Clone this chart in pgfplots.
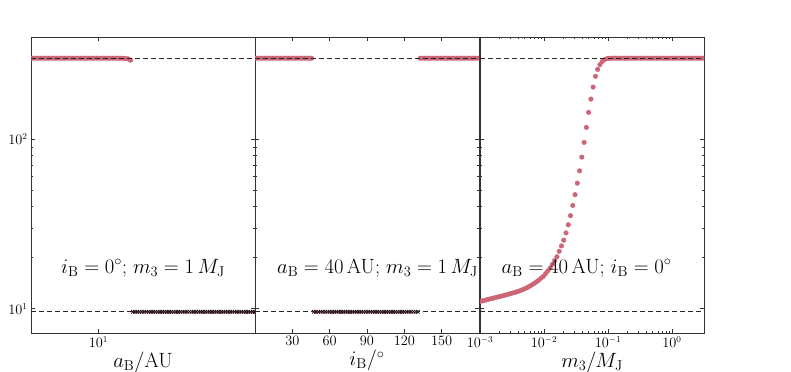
\documentclass[border=0pt]{standalone}
\usepackage{pgfplots}
\pgfplotsset{compat=1.18}

\definecolor{rose}{RGB}{204,102,119}
\definecolor{crossc}{RGB}{45,10,20}

\pgfplotsset{
  every axis/.append style={
    scale only axis, width=224bp, height=296bp,
    ymin=7.2, ymax=400,
    axis line style={black!80, line width=0.8pt},
    tick style={black!80, line width=0.6pt},
    major tick length=4bp, minor tick length=2bp,
    tick label style={font=\fontsize{13.5}{15}\selectfont},
    label style={font=\fontsize{21}{24}\selectfont},
    xlabel style={yshift=2.5bp},
  },
}
\tikzset{
  circ/.style={mark=*, mark size=2.3bp, color=rose, mark options={draw=rose, fill=rose}},
  crs/.style={mark=x, mark size=2.5bp, color=crossc, mark options={line width=0.8pt}},
  refl/.style={black!85, dash pattern=on 5bp off 3bp, line width=0.8pt},
  lab/.style={font=\fontsize{20}{24}\selectfont},
}

\begin{document}
\begin{tikzpicture}
\useasboundingbox (0,0) rectangle (791bp,372bp);

% left: a_B
\begin{axis}[at={(31bp,39bp)}, anchor=south west, clip marker paths=true,
  xmode=log, ymode=log, xmin=5, xmax=50, xtick={10}, ytick={10,100},
  xlabel={$a_\mathrm{B}/\mathrm{AU}$}]
\addplot[only marks, circ] coordinates {
(5.000,300) (5.118,300) (5.238,300) (5.361,300) (5.487,300) (5.617,300) (5.749,300) (5.884,300)
(6.022,300) (6.164,300) (6.309,300) (6.458,300) (6.610,300) (6.765,300) (6.924,300) (7.087,300)
(7.254,300) (7.425,300) (7.599,300) (7.778,300) (7.961,300) (8.148,300) (8.340,300) (8.536,300)
(8.737,300) (8.943,300) (9.153,300) (9.368,300) (9.589,300) (9.814,300) (10.045,300) (10.282,300)
(10.524,300) (10.771,300) (11.025,300) (11.284,300) (11.550,300) (11.821,300) (12.100,300) (12.384,300)
(12.676,300) (12.974,299) (13.279,299) (13.592,297) (13.912,292)};
\addplot[only marks, crs] coordinates {
(14.240,9.6) (14.575,9.6) (14.918,9.6) (15.269,9.6) (15.628,9.6) (15.996,9.6) (16.372,9.6) (16.757,9.6)
(17.152,9.6) (17.555,9.6) (17.968,9.6) (18.391,9.6) (18.824,9.6) (19.267,9.6) (19.720,9.6) (20.184,9.6)
(20.659,9.6) (21.145,9.6) (21.643,9.6) (22.152,9.6) (22.673,9.6) (23.207,9.6) (23.753,9.6) (24.312,9.6)
(24.884,9.6) (25.469,9.6) (26.069,9.6) (26.682,9.6) (27.310,9.6) (27.952,9.6) (28.610,9.6) (29.283,9.6)
(29.972,9.6) (30.678,9.6) (31.399,9.6) (32.138,9.6) (32.895,9.6) (33.669,9.6) (34.461,9.6) (35.272,9.6)
(36.102,9.6) (36.951,9.6) (37.821,9.6) (38.711,9.6) (39.621,9.6) (40.554,9.6) (41.508,9.6) (42.485,9.6)
(43.484,9.6) (44.508,9.6) (45.555,9.6) (46.627,9.6) (47.724,9.6) (48.847,9.6) (50.000,9.6)};
\addplot[refl] coordinates {(5,300) (50,300)};
\addplot[refl] coordinates {(5,9.6) (50,9.6)};
\node[lab] at (rel axis cs:0.5,0.22) {$i_\mathrm{B}=0^\circ$; $m_3=1\,M_\mathrm{J}$};
\end{axis}

% middle: i_B
\begin{axis}[at={(255bp,39bp)}, anchor=south west, clip marker paths=true,
  ymode=log, xmin=0, xmax=180, xtick={30,60,90,120,150}, ytick={10,100}, yticklabels={},
  xlabel={$i_\mathrm{B}/^\circ$}]
\addplot[only marks, circ] coordinates {
(0,300) (1.82,300) (3.64,300) (5.45,300) (7.27,300) (9.09,300) (10.91,300) (12.73,300) (14.55,300)
(16.36,300) (18.18,300) (20.00,300) (21.82,300) (23.64,300) (25.45,300) (27.27,300) (29.09,300)
(30.91,300) (32.73,300) (34.55,300) (36.36,300) (38.18,300) (40.00,300) (41.82,300) (43.64,300) (45.45,300)};
\addplot[only marks, circ] coordinates {
(132.73,300) (134.55,300) (136.36,300) (138.18,300) (140.00,300) (141.82,300) (143.64,300) (145.45,300)
(147.27,300) (149.09,300) (150.91,300) (152.73,300) (154.55,300) (156.36,300) (158.18,300) (160.00,300)
(161.82,300) (163.64,300) (165.45,300) (167.27,300) (169.09,300) (170.91,300) (172.73,300) (174.55,300)
(176.36,300) (178.18,300) (180.00,300)};
\addplot[only marks, crs] coordinates {
(47.27,9.6) (49.09,9.6) (50.91,9.6) (52.73,9.6) (54.55,9.6) (56.36,9.6) (58.18,9.6) (60.00,9.6)
(61.82,9.6) (63.64,9.6) (65.45,9.6) (67.27,9.6) (69.09,9.6) (70.91,9.6) (72.73,9.6) (74.55,9.6)
(76.36,9.6) (78.18,9.6) (80.00,9.6) (81.82,9.6) (83.64,9.6) (85.45,9.6) (87.27,9.6) (89.09,9.6)
(90.91,9.6) (92.73,9.6) (94.55,9.6) (96.36,9.6) (98.18,9.6) (100.00,9.6) (101.82,9.6) (103.64,9.6)
(105.45,9.6) (107.27,9.6) (109.09,9.6) (110.91,9.6) (112.73,9.6) (114.55,9.6) (116.36,9.6) (118.18,9.6)
(120.00,9.6) (121.82,9.6) (123.64,9.6) (125.45,9.6) (127.27,9.6) (129.09,9.6) (130.91,9.6)};
\addplot[refl] coordinates {(0,300) (180,300)};
\addplot[refl] coordinates {(0,9.6) (180,9.6)};
\node[lab] at (rel axis cs:0.547,0.22) {$a_\mathrm{B}=40\,\mathrm{AU}$; $m_3=1\,M_\mathrm{J}$};
\end{axis}

% right: m_3
\begin{axis}[at={(480bp,39bp)}, anchor=south west, clip marker paths=true,
  xmode=log, ymode=log, xmin=0.001, xmax=3.1623, xtick={0.001,0.01,0.1,1},
  ytick={10,100}, yticklabels={},
  xlabel={$m_3/M_\mathrm{J}$}]
\addplot[only marks, circ] coordinates {
(0.0010000,11.04) (0.0010848,11.13) (0.0011768,11.21) (0.0012766,11.30) (0.0013849,11.39)
(0.0015024,11.48) (0.0016298,11.56) (0.0017681,11.66) (0.0019180,11.75) (0.0020807,11.84)
(0.0022572,11.93) (0.0024487,12.02) (0.0026564,12.13) (0.0028817,12.23) (0.0031261,12.34)
(0.0033913,12.45) (0.0036790,12.56) (0.0039910,12.68) (0.0043296,12.84) (0.0046968,13.00)
(0.0050952,13.16) (0.0055274,13.38) (0.0059963,13.60) (0.0065049,13.85) (0.0070567,14.13)
(0.0076553,14.42) (0.0083046,14.76) (0.0090091,15.16) (0.0097733,15.55) (0.010602,16.11)
(0.011502,16.75) (0.012477,17.42) (0.013536,18.30) (0.014684,19.25) (0.015929,20.27)
(0.017281,21.82) (0.018746,23.48) (0.020337,25.39) (0.022062,28.00) (0.023933,31.28)
(0.025963,35.40) (0.028166,40.66) (0.030555,47.06) (0.033147,55.02) (0.035958,65.02)
(0.039009,78.37) (0.042318,95.68) (0.045907,117.2) (0.049801,143.7) (0.054026,172.2)
(0.058609,202.7) (0.063580,234.7) (0.068974,257.7) (0.074825,274.9) (0.081172,286.9)
(0.088057,294.0) (0.095527,297.6) (0.10356,299.5) (0.11234,300) (0.12187,300)
(0.13220,300) (0.14341,300) (0.15557,300) (0.16876,300) (0.18307,300)
(0.19860,300) (0.21544,300) (0.23371,300) (0.25353,300) (0.27503,300)
(0.29835,300) (0.32365,300) (0.35110,300) (0.38088,300) (0.41318,300)
(0.44822,300) (0.48623,300) (0.52747,300) (0.57220,300) (0.62072,300)
(0.67336,300) (0.73046,300) (0.79241,300) (0.85961,300) (0.93251,300)
(1.0116,300) (1.0974,300) (1.1905,300) (1.2914,300) (1.4009,300)
(1.5197,300) (1.6486,300) (1.7884,300) (1.9401,300) (2.1046,300)
(2.2831,300) (2.4767,300) (2.6867,300) (2.9146,300) (3.1618,300)};
\addplot[refl] coordinates {(0.001,300) (3.1623,300)};
\addplot[refl] coordinates {(0.001,9.6) (3.1623,9.6)};
\node[lab] at (rel axis cs:0.476,0.22) {$a_\mathrm{B}=40\,\mathrm{AU}$; $i_\mathrm{B}=0^\circ$};
\end{axis}
\end{tikzpicture}
\end{document}
